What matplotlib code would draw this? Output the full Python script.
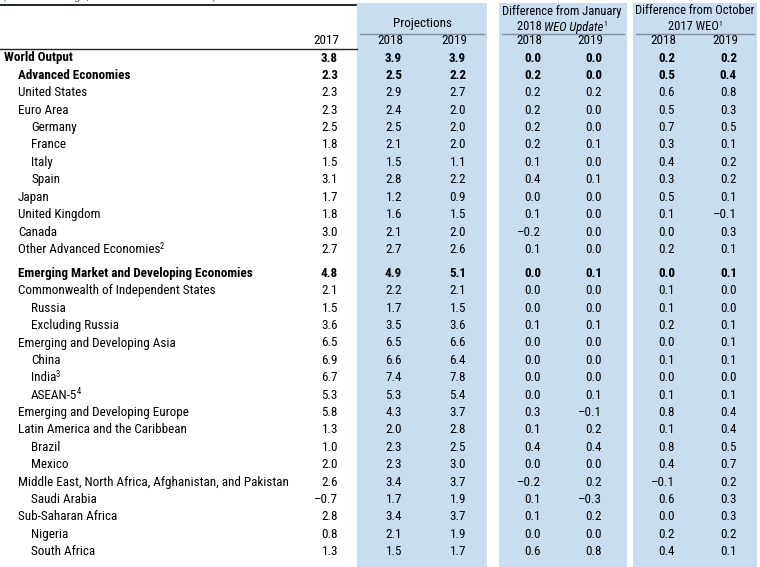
import matplotlib
matplotlib.use("Agg")
import matplotlib.pyplot as plt
from matplotlib import font_manager as fm

# ---------------- font choice (a narrow sans with a real bold) ----------------
entries = fm.fontManager.ttflist


def wnum(w):
    if isinstance(w, (int, float)):
        return int(w)
    return {"bold": 700, "heavy": 800, "black": 900, "semibold": 600,
            "demibold": 600, "normal": 400, "regular": 400}.get(str(w).lower(), 400)


def has_bold(name):
    return any(f.name == name and wnum(f.weight) >= 700 and f.style == "normal" for f in entries)


FAMILY = "Liberation Sans"
for cand in ["Roboto Condensed", "IBM Plex Sans Condensed", "Liberation Sans Narrow",
             "Arial Narrow", "Archivo Narrow", "PT Sans Narrow", "Open Sans Condensed",
             "Noto Sans Condensed", "Fira Sans Condensed", "Barlow Semi Condensed"]:
    if has_bold(cand):
        FAMILY = cand
        break
plt.rcParams["font.family"] = [FAMILY, "DejaVu Sans"]

# ---------------- data ----------------
countries = [
    "World Output", "Advanced Economies", "United States", "Euro Area", "Germany",
    "France", "Italy", "Spain", "Japan", "United Kingdom", "Canada",
    "Other Advanced Economies", "Emerging Market and Developing Economies",
    "Commonwealth of Independent States", "Russia", "Excluding Russia",
    "Emerging and Developing Asia", "China", "India", "ASEAN-5",
    "Emerging and Developing Europe", "Latin America and the Caribbean", "Brazil",
    "Mexico", "Middle East, North Africa, Afghanistan, and Pakistan", "Saudi Arabia",
    "Sub-Saharan Africa", "Nigeria", "South Africa",
]
footnotes = {11: "2", 18: "3", 19: "4"}
indent = [0, 1, 1, 1, 2, 2, 2, 2, 1, 1, 1, 1, 1, 1, 2, 2, 1, 2, 2, 2, 1, 1, 2, 2, 1, 2, 1, 2, 2]
bold_rows = [0, 1, 12]

actual_2017 = [3.8, 2.3, 2.3, 2.3, 2.5, 1.8, 1.5, 3.1, 1.7, 1.8, 3.0, 2.7, 4.8, 2.1, 1.5,
               3.6, 6.5, 6.9, 6.7, 5.3, 5.8, 1.3, 1.0, 2.0, 2.6, -0.7, 2.8, 0.8, 1.3]
proj_2018 = [3.9, 2.5, 2.9, 2.4, 2.5, 2.1, 1.5, 2.8, 1.2, 1.6, 2.1, 2.7, 4.9, 2.2, 1.7,
             3.5, 6.5, 6.6, 7.4, 5.3, 4.3, 2.0, 2.3, 2.3, 3.4, 1.7, 3.4, 2.1, 1.5]
proj_2019 = [3.9, 2.2, 2.7, 2.0, 2.0, 2.0, 1.1, 2.2, 0.9, 1.5, 2.0, 2.6, 5.1, 2.1, 1.5,
             3.6, 6.6, 6.4, 7.8, 5.4, 3.7, 2.8, 2.5, 3.0, 3.7, 1.9, 3.7, 1.9, 1.7]
jan_2018 = [0.0, 0.2, 0.2, 0.2, 0.2, 0.2, 0.1, 0.4, 0.0, 0.1, -0.2, 0.1, 0.0, 0.0, 0.0,
            0.1, 0.0, 0.0, 0.0, 0.0, 0.3, 0.1, 0.4, 0.0, -0.2, 0.1, 0.1, 0.0, 0.6]
jan_2019 = [0.0, 0.0, 0.2, 0.0, 0.0, 0.1, 0.0, 0.1, 0.0, 0.0, 0.0, 0.0, 0.1, 0.0, 0.0,
            0.1, 0.0, 0.0, 0.0, 0.1, -0.1, 0.2, 0.4, 0.0, 0.2, -0.3, 0.2, 0.0, 0.8]
oct_2018 = [0.2, 0.5, 0.6, 0.5, 0.7, 0.3, 0.4, 0.3, 0.5, 0.1, 0.0, 0.2, 0.0, 0.1, 0.1,
            0.2, 0.0, 0.1, 0.0, 0.1, 0.8, 0.1, 0.8, 0.4, -0.1, 0.6, 0.0, 0.2, 0.4]
oct_2019 = [0.2, 0.4, 0.8, 0.3, 0.5, 0.1, 0.2, 0.2, 0.1, -0.1, 0.3, 0.1, 0.1, 0.0, 0.0,
            0.1, 0.1, 0.1, 0.0, 0.1, 0.4, 0.4, 0.5, 0.7, 0.2, 0.3, 0.3, 0.2, 0.1]
year_labels = ["2017", "2018", "2019", "2018", "2019", "2018", "2019"]

# ---------------- layout ----------------
W, H = 760, 567
fig = plt.figure(figsize=(7.6, 5.67), dpi=100)
ax = fig.add_axes([0, 0, 1, 1])
ax.set_xlim(0, W)
ax.set_ylim(H, 0)
ax.axis("off")
fig.canvas.draw()
renderer = fig.canvas.get_renderer()


def width_px(s, size, weight="normal", style="normal"):
    t = ax.text(0, -100, s, fontsize=size, fontweight=weight, fontstyle=style)
    w = t.get_window_extent(renderer).width
    t.remove()
    return w


# fit font size so the longest label spans ~270 px like the reference
FS = 10.0
FS = min(FS, FS * 270.0 / width_px(countries[24], FS))
HFS = min(FS, FS * 119.0 / width_px("Difference from January", FS))

BLUE = "#C8DDF0"
RULE_GREY = "#7f8c99"
TXT = "#000000"

blocks = [(357, 487), (499, 627), (633, 757)]
for x0, x1 in blocks:
    ax.add_patch(plt.Rectangle((x0, 3), x1 - x0, H, color=BLUE, lw=0, zorder=0))

# cut-off blue title line at the very top
ax.text(2, -1.5, "(Percent change, unless noted otherwise)", color="#2f6eb5",
        fontsize=FS, va="baseline", ha="left")
ax.plot([0, 356], [4.5, 4.5], color="black", lw=1.2)

ax.plot([0, 357], [49, 49], color="#222222", lw=1.0)
for x0, x1 in blocks:
    ax.plot([x0 + 3, x1 - 3], [33.5, 33.5], color=RULE_GREY, lw=1.0)

ax.text(422, 24, "Projections", fontsize=FS, ha="center", va="center", color=TXT)
ax.text(562, 11, "Difference from January", fontsize=HFS, ha="center", va="center", color=TXT)
ax.text(695, 11, "Difference from October", fontsize=HFS, ha="center", va="center", color=TXT)


def mixed(xc, y, parts):
    artists = []
    for s, style, size, dy in parts:
        t = ax.text(0, y + dy, s, fontsize=size, fontstyle=style, ha="left",
                    va="center", color=TXT)
        artists.append(t)
    widths = [a.get_window_extent(renderer).width for a in artists]
    x = xc - sum(widths) / 2
    for a, w in zip(artists, widths):
        a.set_x(x)
        x += w


mixed(562, 27, [("2018 ", "normal", HFS, 0), ("WEO Update", "italic", HFS, 0),
                ("1", "normal", HFS * 0.62, -3)])
mixed(695, 27, [("2017 WEO", "normal", HFS, 0), ("1", "normal", HFS * 0.62, -3)])

col_right = [338, 402, 466, 541, 602, 675, 737]
columns = [actual_2017, proj_2018, proj_2019, jan_2018, jan_2019, oct_2018, oct_2019]
for xr, lab in zip(col_right, year_labels):
    ax.text(xr + 1, 41, lab, fontsize=FS, ha="right", va="center", color=TXT)

row_y = []
y = 58
for i in range(len(countries)):
    row_y.append(y)
    y += 17.4
    if i == 11:
        y += 6.6

indent_x = [4, 18, 31]


def fmt(v):
    s = f"{abs(v):.1f}"
    return ("\u2013" + s) if v < 0 else s


for i, name in enumerate(countries):
    w = "bold" if i in bold_rows else "normal"
    yy = row_y[i]
    t = ax.text(indent_x[indent[i]], yy, name, fontsize=FS, fontweight=w,
                ha="left", va="center", color=TXT)
    if i in footnotes:
        # attach the footnote mark right after the label text
        t.set_text(name + " ")
        t.set_text(name)
        bb = t.get_window_extent(renderer)
        x_end = ax.transData.inverted().transform((bb.x1, 0))[0]
        ax.text(x_end - 0.8, yy - 3.2, footnotes[i], fontsize=FS * 0.65,
                ha="left", va="center", color=TXT)
    for xr, col in zip(col_right, columns):
        ax.text(xr, yy, fmt(col[i]), fontsize=FS, fontweight=w, ha="right",
                va="center", color=TXT)

fig.savefig("out.png", dpi=100)
